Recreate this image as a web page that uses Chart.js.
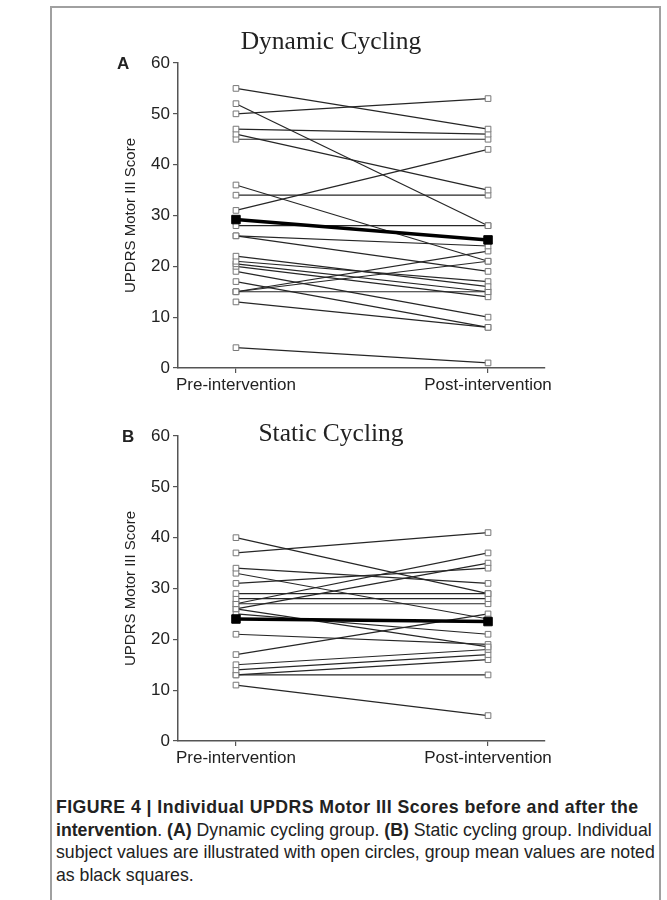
<!DOCTYPE html>
<html>
<head>
<meta charset="utf-8">
<script src="https://cdn.jsdelivr.net/npm/chart.js@4.4.0/dist/chart.umd.min.js"></script>
<style>
  body { margin: 0; width: 667px; height: 900px; background: #fff; position: relative; overflow: hidden;
         font-family: "Liberation Sans", Arial, sans-serif; color: #222; }
  #frame { position: absolute; left: 50px; top: 6px; width: 611px; height: 900px;
           border: 2px solid #a0a0a0; border-bottom: none; box-sizing: border-box; }
  .wrap { position: absolute; left: 0; width: 667px; height: 400px; }
  .panel-title { position: absolute; left: 180px; width: 302px; text-align: center;
                 font-family: "Liberation Serif", "Times New Roman", serif; font-size: 25.5px; line-height: 1; color: #222; }
  .panel-letter { position: absolute; font-weight: bold; font-size: 17px; line-height: 1; }
  #caption { position: absolute; left: 56px; top: 796px; width: 610px; font-size: 17.7px; line-height: 22.5px; white-space: nowrap; }
  #caption .first { letter-spacing: 0.45px; }
</style>
</head>
<body>
<div id="frame"></div>
<div class="wrap" style="top:0px"><canvas id="chart-dynamic" width="667" height="400"></canvas></div>
<div class="wrap" style="top:373px"><canvas id="chart-static" width="667" height="400"></canvas></div>
<div class="panel-title" style="top:28px">Dynamic Cycling</div>
<div class="panel-title" style="top:420px">Static Cycling</div>
<div class="panel-letter" style="left:117px; top:55px">A</div>
<div class="panel-letter" style="left:122px; top:428px">B</div>
<div id="caption">
  <b class="first">FIGURE 4 | Individual UPDRS Motor III Scores before and after the</b><br>
  <b>intervention</b>. <b>(A)</b> Dynamic cycling group. <b>(B)</b> Static cycling group. Individual<br>
  subject values are illustrated with open circles, group mean values are noted<br>
  as black squares.
</div>
<script>
// Datos
const xLabels = ["Pre-intervention", "Post-intervention"];
const yTicks = [0, 10, 20, 30, 40, 50, 60];

// Panel A - Dynamic Cycling (un valor por sujeto)
const dynamicPre  = [55, 52, 50, 47, 46, 45, 36, 34, 31, 28, 26, 26, 22, 21, 20.5, 20, 19, 17, 15, 15, 15, 13, 4];
const dynamicPost = [47, 28, 53, 46, 35, 45, 21, 34, 43, 28, 24, 19, 16, 17, 15, 14, 10, 8, 15, 23, 21, 8, 1];
const dynamicMean = [29.2, 25.2];

// Panel B - Static Cycling
const staticPre  = [40, 37, 34, 33, 31, 29, 28, 27, 27, 26, 26, 25, 21, 17, 15, 14, 13, 13, 11];
const staticPost = [29, 41, 31, 24, 34, 29, 28, 27, 37, 35, 18.5, 21, 19, 25, 18, 17, 16, 13, 5];
const staticMean = [24, 23.5];

const AXIS_COLOR = "#555";
const TICK_FONT = { family: "'Liberation Sans', Arial, sans-serif", size: 17 };

function buildDatasets(pre, post, mean) {
  // la media va primero para que se dibuje encima
  const sets = [{
    data: [{ x: 0, y: mean[0] }, { x: 1, y: mean[1] }],
    borderColor: "#000",
    borderWidth: 3.5,
    pointStyle: "rect",
    pointRadius: 6,
    pointBackgroundColor: "#000",
    pointBorderColor: "#000",
    pointBorderWidth: 1
  }];
  pre.forEach((v, i) => {
    sets.push({
      data: [{ x: 0, y: v }, { x: 1, y: post[i] }],
      borderColor: "#262626",
      borderWidth: 1.2,
      pointStyle: "rect",
      pointRadius: 4,
      pointBackgroundColor: "#fff",
      pointBorderColor: "#777",
      pointBorderWidth: 1
    });
  });
  return sets;
}

function makeChart(id, pre, post, mean) {
  const ctx = document.getElementById(id).getContext("2d");
  return new Chart(ctx, {
    type: "line",
    data: { datasets: buildDatasets(pre, post, mean) },
    options: {
      responsive: false,
      animation: false,
      events: [],
      layout: { padding: { left: 118, right: 122, top: 63, bottom: 0 } },
      plugins: { legend: { display: false }, tooltip: { enabled: false } },
      scales: {
        x: {
          type: "linear",
          min: -0.23,
          max: 1.226,
          afterBuildTicks: (s) => { s.ticks = [{ value: 0 }, { value: 1 }]; },
          afterFit: (s) => { s.height = 32; },
          ticks: {
            callback: (v) => xLabels[v],
            font: TICK_FONT,
            color: "#222",
            padding: 2,
            maxRotation: 0
          },
          grid: { drawOnChartArea: false, drawTicks: true, tickLength: 5, color: AXIS_COLOR, lineWidth: 1.2 },
          border: { display: true, color: AXIS_COLOR, width: 1.5 }
        },
        y: {
          min: 0,
          max: 60,
          afterBuildTicks: (s) => { s.ticks = yTicks.map((v) => ({ value: v })); },
          afterFit: (s) => { s.width = 60; },
          ticks: { font: TICK_FONT, color: "#222", padding: 3 },
          title: {
            display: true,
            text: "UPDRS Motor III Score",
            font: { family: "'Liberation Sans', Arial, sans-serif", size: 15 },
            color: "#222",
            padding: { top: 4, bottom: 0 }
          },
          grid: { drawOnChartArea: false, drawTicks: true, tickLength: 5, color: AXIS_COLOR, lineWidth: 1.2 },
          border: { display: true, color: AXIS_COLOR, width: 1.5 }
        }
      }
    }
  });
}

makeChart("chart-dynamic", dynamicPre, dynamicPost, dynamicMean);
makeChart("chart-static", staticPre, staticPost, staticMean);
</script>
</body>
</html>
